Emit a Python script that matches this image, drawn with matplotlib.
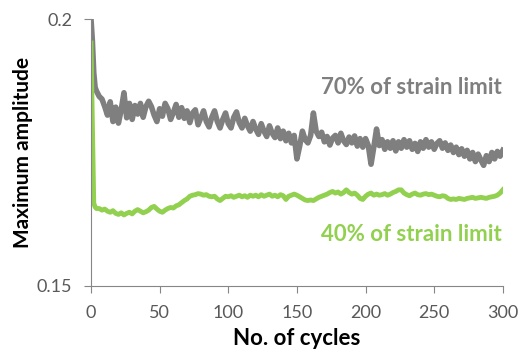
import matplotlib.pyplot as plt
import numpy as np

plt.rcParams['font.family'] = ['Lato', 'DejaVu Sans']

# cycles: dense at the start, then every 2 cycles
cycles = [0, 1, 2, 3, 4] + list(range(6, 301, 2))

# amplitude x 1e-4, one row = 10 points (20 cycles)
amp_70 = [2000, 1960, 1900, 1872, 1865,
          1855, 1850, 1836, 1820, 1845, 1808, 1835, 1805, 1830, 1862,
          1815, 1842, 1812, 1838, 1822, 1842, 1816, 1836, 1846, 1836,
          1820, 1808, 1832, 1818, 1842, 1832, 1812, 1825, 1840, 1816,
          1834, 1814, 1828, 1806, 1824, 1830, 1802, 1815, 1828, 1808,
          1798, 1816, 1828, 1808, 1796, 1812, 1824, 1804, 1796, 1816,
          1826, 1806, 1796, 1814, 1800, 1790, 1808, 1794, 1784, 1804,
          1790, 1780, 1800, 1786, 1778, 1796, 1776, 1790, 1772, 1786,
          1768, 1782, 1738, 1762, 1790, 1774, 1768, 1782, 1824, 1790,
          1780, 1788, 1770, 1780, 1764, 1777, 1782, 1768, 1786, 1772,
          1765, 1779, 1768, 1781, 1762, 1776, 1760, 1776, 1763, 1728,
          1760, 1794, 1763, 1774, 1756, 1770, 1758, 1772, 1753, 1770,
          1758, 1774, 1760, 1772, 1756, 1767, 1752, 1770, 1758, 1774,
          1760, 1770, 1756, 1767, 1772, 1758, 1768, 1754, 1764, 1750,
          1760, 1746, 1757, 1743, 1754, 1738, 1750, 1733, 1747, 1736,
          1726, 1744, 1733, 1750, 1738, 1752, 1743, 1754]

amp_40 = [1955, 1800, 1655, 1648, 1645,
          1645, 1642, 1644, 1640, 1638, 1641, 1636, 1634, 1637, 1633,
          1636, 1638, 1635, 1640, 1643, 1640, 1637, 1639, 1642, 1647,
          1649, 1644, 1640, 1638, 1642, 1645, 1647, 1646, 1650, 1652,
          1656, 1660, 1663, 1668, 1670, 1671, 1673, 1672, 1670, 1671,
          1668, 1667, 1668, 1663, 1660, 1664, 1668, 1667, 1669, 1666,
          1668, 1670, 1667, 1669, 1666, 1670, 1668, 1670, 1667, 1671,
          1668, 1670, 1672, 1668, 1670, 1667, 1671, 1669, 1662, 1668,
          1670, 1672, 1670, 1667, 1664, 1661, 1660, 1661, 1660, 1663,
          1666, 1668, 1670, 1672, 1675, 1677, 1674, 1676, 1672, 1675,
          1680, 1675, 1672, 1674, 1670, 1664, 1662, 1668, 1672, 1674,
          1670, 1672, 1670, 1671, 1673, 1670, 1672, 1675, 1677, 1680,
          1680, 1674, 1671, 1669, 1672, 1674, 1671, 1670, 1672, 1673,
          1671, 1672, 1670, 1668, 1667, 1669, 1668, 1664, 1662, 1663,
          1662, 1664, 1663, 1662, 1664, 1665, 1666, 1664, 1665, 1666,
          1665, 1664, 1666, 1667, 1668, 1670, 1674, 1680]

x = np.array(cycles)
y70 = np.array(amp_70) / 10000
y40 = np.array(amp_40) / 10000

fig = plt.figure(figsize=(5.2, 3.53), dpi=100)
ax = fig.add_axes([0.175, 0.19, 0.792, 0.756])

ax.plot(x, y70, color='#7f7f7f', lw=4.0, solid_joinstyle='round')
ax.plot(x, y40, color='#92d050', lw=3.5, solid_joinstyle='round')

ax.set_xlim(0, 300)
ax.set_ylim(0.15, 0.2)
ax.set_xticks(range(0, 301, 50))
ax.set_yticks([0.15, 0.2])
ax.set_yticklabels(['0.15', '0.2'])

for s in ['top', 'right']:
    ax.spines[s].set_visible(False)
for s in ['left', 'bottom']:
    ax.spines[s].set_color('#868686')
ax.tick_params(colors='#868686', labelcolor='#595959', labelsize=13,
               length=5, pad=8.5)

ax.set_xlabel('No. of cycles', fontsize=16, fontweight='bold', labelpad=5)
ax.set_ylabel('Maximum amplitude', fontsize=15, fontweight='bold', labelpad=3)

ax.text(299, 0.1871, '70% of strain limit', color='#7f7f7f', fontsize=16,
        fontweight='bold', ha='right', va='center')
ax.text(299, 0.1596, '40% of strain limit', color='#92d050', fontsize=16,
        fontweight='bold', ha='right', va='center')

fig.savefig('out.png', dpi=100)
